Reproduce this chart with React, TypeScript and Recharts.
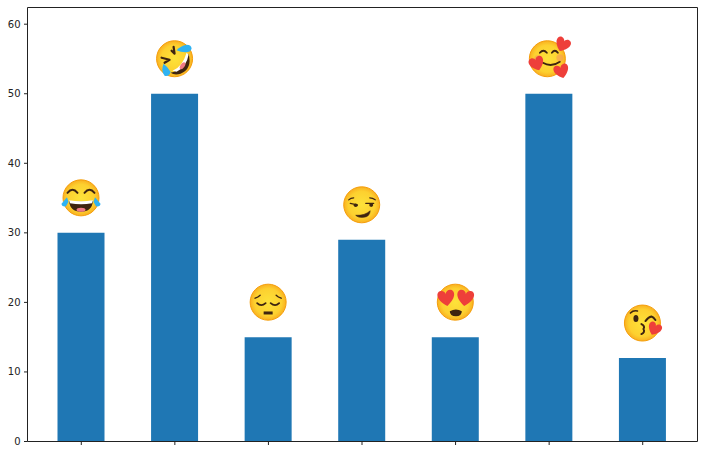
import { Bar, BarChart, ReferenceLine, XAxis, YAxis } from "recharts";

const categories = ["joy", "rofl", "pensive", "smirk", "heart_eyes", "smiling_hearts", "kiss"];
const counts = [30, 50, 15, 29, 15, 50, 12];
const yTicks = [0, 10, 20, 30, 40, 50, 60];
const yMax = 62.4;

const chartData = categories.map((name, i) => ({ name, count: counts[i] }));

const DARK = "#3e2410";
const RED = "#ee3f3a";
const BLUE = "#2fb2f2";
const AXIS = "#222";

const Heart = ({ x, y, s = 1, rot = 0 }: { x: number; y: number; s?: number; rot?: number }) => (
  <path
    d="M0 6 C-9 0 -7 -6 -3.5 -6 C-1.5 -6 0 -4.5 0 -3 C0 -4.5 1.5 -6 3.5 -6 C7 -6 9 0 0 6 Z"
    fill={RED}
    transform={`translate(${x} ${y}) rotate(${rot}) scale(${s})`}
  />
);

const Face = ({ cx = 0 }: { cx?: number }) => (
  <circle cx={cx} r={18} fill="url(#emojiFace)" stroke="#f59e0b" strokeWidth={1} />
);

const arc = (d: string, w = 2) => (
  <path d={d} fill="none" stroke={DARK} strokeWidth={w} strokeLinecap="round" strokeLinejoin="round" />
);

const glyphs = [
  // joy
  <g>
    <Face />
    {arc("M-13.5 -5 Q-8.5 -11 -3.5 -5")}
    {arc("M3.5 -5 Q8.5 -11 13.5 -5")}
    <path d="M-12 3 Q0 5 12 3 Q11 14 0 14 Q-11 14 -12 3 Z" fill={DARK} />
    <path d="M-12 2.5 Q0 4.5 12 2.5 L11 5.5 Q0 7.5 -11 5.5 Z" fill="#fff" />
    <ellipse cy={12} rx={4.5} ry={2} fill="#ef7a85" />
    <path d="M-14 -0.5 L-19.5 6 Q-19.5 9 -15 8.5 L-12.5 4 Z" fill={BLUE} />
    <path d="M14 -0.5 L19.5 6 Q19.5 9 15 8.5 L12.5 4 Z" fill={BLUE} />
  </g>,
  // rofl
  <g>
    <Face />
    {arc("M-1 -12 L0 -5 L-3 -8", 2.2)}
    {arc("M-13 -1 L-5 1 L-10 4", 2.2)}
    <path d="M-4 14 Q8 12 14 -5 Q18 10 6 15 Q0 17 -4 14 Z" fill={DARK} />
    <path d="M-2 12 Q8 8 12 -6 L14 -4 Q12 8 2 13 Z" fill="#fff" />
    <ellipse cx={8} cy={7} rx={2} ry={4} fill="#ef7a85" transform="rotate(35 8 7)" />
    <path d="M2 -8.5 Q6 -13 12 -14 Q17 -14 17 -10 Q16 -6.5 11 -6.5 Q6 -6.5 2 -8.5 Z" fill={BLUE} />
    <path d="M-11 5 Q-7 8 -4 13 Q-5 18 -10 17 Q-14 12 -11 5 Z" fill={BLUE} />
  </g>,
  // pensive
  <g>
    <Face />
    {arc("M-13 -4 Q-10 -5 -8 -7", 1.4)}
    {arc("M13 -4 Q10 -5 8 -7", 1.4)}
    {arc("M-11 1 Q-7 5 -2.5 1", 1.8)}
    {arc("M11 1 Q7 5 2.5 1", 1.8)}
    <rect x={-4.5} y={9.3} width={9} height={3} fill={DARK} />
  </g>,
  // smirk
  <g>
    <Face />
    {arc("M-13 -5 Q-11 -7 -8 -7", 1.2)}
    {arc("M8 -7 Q11 -7 13.5 -5", 1.2)}
    {arc("M-11.5 -1.5 L-4.5 0", 1.2)}
    {arc("M4 -1.5 L12 -1.5", 1.2)}
    <ellipse cx={-6} cy={0.5} rx={2} ry={1.8} fill={DARK} />
    <ellipse cx={9.5} cy={0.3} rx={2} ry={1.8} fill={DARK} />
    <path d="M-6 10.5 Q3 11 8.5 6 Q8 12 2 12.5 Q-4 13 -6 10.5 Z" fill={DARK} stroke={DARK} strokeWidth={0.6} />
  </g>,
  // heart eyes
  <g>
    <Face />
    <path d="M-5.5 9 Q0.7 5.5 6.5 9 Q6.5 14 0.7 14 Q-5.5 14 -5.5 9 Z" fill={DARK} />
    <Heart x={-9} y={-4} s={1.3} rot={-8} />
    <Heart x={10} y={-4} s={1.3} rot={8} />
  </g>,
  // smiling face with hearts
  <g>
    <Face cx={-1.5} />
    {arc("M-9 -6 Q-5.5 -10 -2 -6", 1.8)}
    {arc("M3 -6 Q6 -10 9 -6", 1.8)}
    {arc("M-6 4 Q2.5 9 11 3", 1.8)}
    <circle cx={-11} cy={0} r={3.5} fill="#f59a5a" opacity={0.6} />
    <circle cx={11} cy={-1} r={3.5} fill="#f59a5a" opacity={0.6} />
    <Heart x={13.7} y={-14} s={1.15} rot={25} />
    <Heart x={-12} y={5} s={1.15} rot={-20} />
    <Heart x={12.7} y={12.7} s={1.15} rot={-15} />
  </g>,
  // kissing wink
  <g>
    <Face />
    <ellipse cx={-6.5} cy={-4.5} rx={2.5} ry={3.5} fill={DARK} />
    {arc("M-12 -10 Q-9 -13 -5 -12", 1.6)}
    {arc("M3 -2 Q6 -6 9 -6.5 Q11 -6 13 -3", 2)}
    {arc("M-1 1 Q3 3 1 6 Q3 9 -1 11", 2)}
    <Heart x={12} y={6} s={1.05} rot={25} />
  </g>
];

// draws the emoji above its bar, anchored to the bar's scaled top
const EmojiLabel = (props: any) => {
  const { x, y, width, index } = props;
  return <g transform={`translate(${x + width / 2} ${y - 35})`}>{glyphs[index]}</g>;
};

export default function App() {
  return (
    <div style={{ position: "absolute", left: 0, top: 0, width: 703, height: 455, background: "#fff" }}>
      <BarChart
        width={703}
        height={455}
        data={chartData}
        margin={{ top: 7.5, right: 0, bottom: 0, left: 0 }}
      >
        <defs>
          <radialGradient id="emojiFace">
            <stop offset="0%" stopColor="#fde23a" />
            <stop offset="75%" stopColor="#fdd02f" />
            <stop offset="100%" stopColor="#f9b020" />
          </radialGradient>
        </defs>
        <XAxis
          dataKey="name"
          height={13.5}
          padding={{ left: 7, right: 8 }}
          stroke={AXIS}
          tickFormatter={() => ""}
          tickSize={3.5}
        />
        <YAxis
          domain={[0, yMax]}
          ticks={yTicks}
          width={27.5}
          stroke={AXIS}
          tick={{ fill: "#222", fontSize: 10, fontFamily: "DejaVu Sans" }}
          tickSize={3.5}
          tickMargin={3.5}
        />
        <YAxis
          yAxisId="frame"
          orientation="right"
          domain={[0, yMax]}
          ticks={[]}
          width={5.5}
          stroke={AXIS}
          tick={false}
          tickLine={false}
        />
        <Bar dataKey="count" fill="#1f77b4" barSize={47} isAnimationActive={false} label={<EmojiLabel />} />
        <ReferenceLine y={yMax} stroke={AXIS} strokeWidth={1} />
      </BarChart>
    </div>
  );
}
